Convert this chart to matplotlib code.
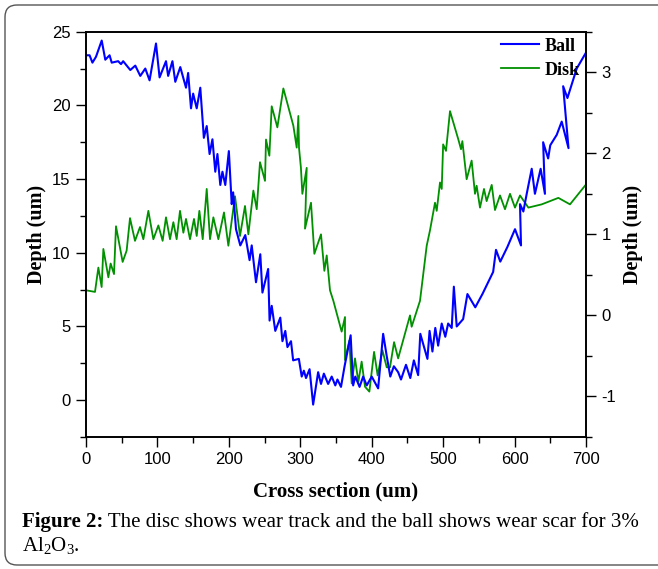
import matplotlib
matplotlib.use("Agg")
import matplotlib.pyplot as plt
from matplotlib.patches import FancyBboxPatch
from matplotlib.ticker import MultipleLocator

# ---------------- data ----------------
ball_x = [0, 5, 9, 14, 22, 27, 33, 36, 45, 49, 52, 62, 69, 76, 83, 89, 98, 103, 112, 115,
          121, 125, 132, 140, 143, 147, 150, 155, 160, 165, 169, 173, 177, 181, 184, 188,
          191, 195, 200, 204, 206, 210, 216, 223, 229, 232, 238, 244, 247, 255, 257, 260,
          265, 272, 275, 279, 282, 287, 290, 298, 302, 305, 308, 313, 318, 325, 329, 333,
          339, 344, 349, 352, 357, 362, 370.5, 374, 377, 383, 388, 393, 400, 409, 416, 421,
          426, 431, 437, 441, 448, 454, 459, 465, 468, 478, 481, 485, 489, 493, 498, 503,
          507, 512, 515, 519, 528, 534, 545, 555, 563, 570, 574, 580, 590, 600.6, 609,
          607.6, 612.3, 617, 624, 628.5, 636.5, 642.5, 640, 647, 650, 659, 666, 675.5,
          668, 674, 687, 699]
ball_y = [23.4, 23.4, 22.9, 23.3, 24.4, 23.1, 23.4, 22.9, 23.0, 22.8, 23.0, 22.4, 22.7, 22.0,
          22.5, 21.7, 24.2, 21.9, 23.0, 22.0, 23.0, 21.6, 22.6, 21.2, 22.2, 19.8, 20.8, 19.8,
          21.2, 17.8, 18.6, 16.7, 17.7, 15.5, 16.7, 14.6, 15.5, 14.6, 16.9, 13.3, 14.1, 11.6,
          10.5, 11.2, 9.5, 10.5, 8.0, 9.9, 7.3, 8.9, 5.4, 6.4, 4.7, 5.6, 4.0, 4.7, 3.6, 4.0,
          2.7, 2.8, 1.6, 2.0, 1.5, 2.1, -0.3, 1.9, 1.1, 1.8, 1.1, 1.6, 1.0, 1.4, 0.9, 2.3,
          4.4, 1.0, 1.6, 0.9, 1.6, 1.0, 1.6, 0.8, 4.5, 3.0, 1.6, 2.3, 1.9, 1.4, 2.4, 1.5,
          2.7, 1.7, 4.5, 2.8, 4.7, 3.3, 4.9, 3.7, 5.2, 4.3, 5.2, 4.9, 7.7, 5.0, 5.5, 7.2,
          6.3, 7.2, 8.0, 8.7, 10.2, 9.4, 10.4, 11.6, 10.5, 13.3, 12.8, 14.0, 15.7, 14.0,
          15.7, 14.0, 17.5, 16.4, 17.3, 18.0, 18.9, 17.1, 21.3, 20.5, 22.5, 23.5]

disk_x = [0, 12.6, 17.3, 21.9, 24.3, 31.3, 34.5, 39.2, 42, 51.3, 56.9, 61.6, 68.6, 75.6,
          80.3, 87.3, 94.3, 101.3, 107.3, 112, 117.6, 122.3, 126.9, 131.6, 136.3, 140,
          145.6, 151.2, 155, 158.7, 163.4, 169, 173.6, 178.3, 185.3, 193.2, 199.3, 208.6,
          215.6, 222.6, 227.3, 234.3, 239, 243.6, 250.6, 252, 256.7, 260, 267.9, 276.3,
          290.3, 295, 297.3, 298.2, 300.9, 302.9, 309, 306.6, 315, 319.7, 329, 333.7, 337,
          341.6, 346.3, 357.9, 362.6, 362.6, 368.7, 372, 376.6, 381.3, 385.9, 390.6, 396.7,
          403.3, 408.3, 415, 421, 425.6, 431.3, 437, 453.6, 455.9, 467.6, 477, 481.6, 488.6,
          491, 495.6, 498, 500, 504, 509.6, 521.3, 525, 526.9, 532.9, 539.9, 544.6, 546.9,
          551.6, 557.2, 560.9, 568, 572.6, 579.6, 586.6, 593.6, 600.6, 607.6, 619.3, 638,
          661.3, 677.6, 698.6]
disk_y = [0.31, 0.29, 0.59, 0.35, 0.82, 0.47, 0.64, 0.51, 1.10, 0.66, 0.80, 1.20, 0.92, 1.09,
          0.94, 1.29, 0.94, 1.11, 0.92, 1.21, 0.94, 1.15, 0.94, 1.29, 1.02, 1.19, 0.94, 1.19,
          0.98, 1.29, 0.94, 1.56, 0.94, 1.21, 0.94, 1.27, 0.86, 1.47, 0.98, 1.35, 1.00, 1.54,
          1.31, 1.89, 1.66, 2.17, 1.97, 2.58, 2.32, 2.80, 2.34, 2.07, 2.46, 2.07, 1.82, 1.50,
          1.82, 1.07, 1.39, 0.76, 1.00, 0.55, 0.74, 0.31, 0.18, -0.20, -0.02, -0.55, -0.31,
          -0.84, -0.53, -0.82, -0.57, -0.88, -0.94, -0.45, -0.74, -0.43, -0.64, -0.64, -0.33,
          -0.53, 0.00, -0.14, 0.18, 0.86, 1.05, 1.39, 1.29, 1.64, 1.56, 2.11, 2.03, 2.52,
          2.17, 2.05, 2.15, 1.68, 1.91, 1.50, 1.60, 1.33, 1.56, 1.41, 1.61, 1.30, 1.48, 1.31,
          1.50, 1.33, 1.48, 1.33, 1.37, 1.45, 1.37, 1.60]

x_ticks = [0, 100, 200, 300, 400, 500, 600, 700]
left_ticks = [0, 5, 10, 15, 20, 25]
right_ticks = [-1, 0, 1, 2, 3]

# ---------------- figure ----------------
W, H = 658, 569
fig = plt.figure(figsize=(W / 100, H / 100), dpi=100)

bg = fig.add_axes([0, 0, 1, 1])
bg.set_xlim(0, W)
bg.set_ylim(H, 0)
bg.axis("off")
bg.add_patch(FancyBboxPatch((5, 5), W + 20, 560, boxstyle="round,pad=0,rounding_size=12",
                            fill=False, edgecolor="#555555", linewidth=1.0))

ax_l, ax_r, ax_t, ax_b = 86, 586, 31.7, 437
ax = fig.add_axes([ax_l / W, 1 - ax_b / H, (ax_r - ax_l) / W, (ax_b - ax_t) / H])
ax2 = ax.twinx()

sans = "Liberation Sans"
serif = "Liberation Serif"

l2, = ax2.plot(disk_x, disk_y, color="#009000", lw=1.3, label="Disk")
l1, = ax.plot(ball_x, ball_y, color="#0000ff", lw=1.5, label="Ball")
ax.set_zorder(ax2.get_zorder() + 1)
ax.patch.set_visible(False)

ax.set_xlim(0, 700)
ax.set_ylim(-2.5, 25)
ax2.set_ylim(-1.5, 3.5)

ax.set_xticks(x_ticks)
ax.set_xticklabels([str(v) for v in x_ticks])
ax.xaxis.set_minor_locator(MultipleLocator(50))
ax.set_yticks(left_ticks)
ax.set_yticklabels([str(v) for v in left_ticks])
ax.yaxis.set_minor_locator(MultipleLocator(2.5))
ax2.set_yticks(right_ticks)
ax2.set_yticklabels([str(v) for v in right_ticks])
ax2.yaxis.set_minor_locator(MultipleLocator(0.5))

for a in (ax, ax2):
    a.tick_params(which="major", direction="out", length=7, width=1, labelsize=12, pad=4)
    a.tick_params(which="minor", direction="out", length=4, width=1)
    for lab in a.get_xticklabels() + a.get_yticklabels():
        lab.set_fontfamily(sans)
    for s in a.spines.values():
        s.set_linewidth(1.2)

ax.set_xlabel("Cross section (um)", fontfamily=serif, fontweight="bold", fontsize=15, labelpad=10)
ax.set_ylabel("Depth (um)", fontfamily=serif, fontweight="bold", fontsize=14.5, labelpad=4)
ax2.set_ylabel("Depth (um)", fontfamily=serif, fontweight="bold", fontsize=14.5, labelpad=5)

leg = ax.legend(handles=[l1, l2], loc="upper left", bbox_to_anchor=(0.826, 0.99),
                frameon=False, prop={"family": serif, "weight": "bold", "size": 13},
                handlelength=2.1, handletextpad=0.35, labelspacing=0.4, borderpad=0.1,
                borderaxespad=0)

# caption
fig.canvas.draw()
t1 = fig.text(22 / W, 1 - 527 / H, "Figure 2:", fontfamily=serif, fontweight="bold",
              fontsize=15, va="baseline", ha="left")
r = fig.canvas.get_renderer()
bb = t1.get_window_extent(renderer=r)
fig.text(bb.x1 / W, 1 - 527 / H,
         " The disc shows wear track and the ball shows wear scar for 3%",
         fontfamily=serif, fontsize=15, va="baseline", ha="left")
plt.rcParams["mathtext.fontset"] = "custom"
plt.rcParams["mathtext.rm"] = serif
plt.rcParams["mathtext.it"] = serif
fig.text(22 / W, 1 - 551 / H, r"Al$_\mathrm{2}$O$_\mathrm{3}$.", fontfamily=serif,
         fontsize=15, va="baseline", ha="left")

fig.savefig("out.png", dpi=100)
